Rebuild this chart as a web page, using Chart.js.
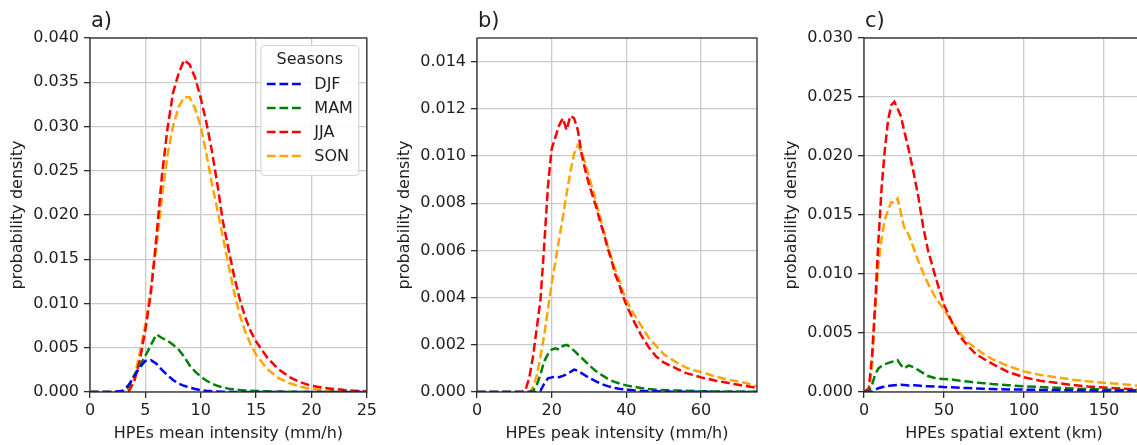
<!DOCTYPE html>
<html><head><meta charset="utf-8">
<script src="https://cdn.jsdelivr.net/npm/chart.js@4.4.1/dist/chart.umd.min.js"></script>
<style>
html,body{margin:0;padding:0;background:#fff;overflow:hidden;width:1137px;height:445px;position:relative;}
canvas.panel{position:absolute;top:0;}
</style></head><body>
<canvas id="ca" class="panel" width="380" height="445" style="left:0px;width:380px;height:445px"></canvas>
<canvas id="cb" class="panel" width="380" height="445" style="left:387px;width:380px;height:445px"></canvas>
<canvas id="cc" class="panel" width="380" height="445" style="left:774px;width:380px;height:445px"></canvas>
<script>
const seasons = ['DJF', 'MAM', 'JJA', 'SON'];
const seasonColors = ['#0000ff', '#008000', '#ff0000', '#ffa500'];
const panelLabels = ['a)', 'b)', 'c)'];
const xTitles = ['HPEs mean intensity (mm/h)', 'HPEs peak intensity (mm/h)', 'HPEs spatial extent (km)'];
const yTitle = 'probability density';
const legendTitle = 'Seasons';

// ---- panel a: mean intensity ----
const meanX = [0, 2, 3, 3.5, 4, 4.5, 5, 5.5, 6, 6.5, 7, 7.5, 8, 8.5, 9, 9.5, 10, 10.5, 11, 11.5, 12, 12.5, 13, 13.5, 14, 14.5, 15, 16, 17, 18, 19, 20, 21, 22, 23, 24, 25];
const meanDJF = [0, 0, 0.15e-3, 0.8e-3, 1.8e-3, 2.8e-3, 3.5e-3, 3.6e-3, 3.2e-3, 2.5e-3, 1.9e-3, 1.35e-3, 0.95e-3, 0.7e-3, 0.5e-3, 0.33e-3, 0.2e-3, 0.13e-3, 0.08e-3, 0.05e-3, 0.03e-3, 0.02e-3, 0.01e-3, 0, 0, 0, 0, 0, 0, 0, 0, 0, 0, 0, 0, 0, 0];
const meanMAM = [0, 0, 0.05e-3, 0.6e-3, 1.9e-3, 3.0e-3, 4.1e-3, 5.3e-3, 6.5e-3, 6.1e-3, 5.8e-3, 5.35e-3, 4.8e-3, 4.0e-3, 3.0e-3, 2.3e-3, 1.75e-3, 1.3e-3, 0.95e-3, 0.7e-3, 0.5e-3, 0.38e-3, 0.3e-3, 0.22e-3, 0.18e-3, 0.15e-3, 0.12e-3, 0.08e-3, 0.05e-3, 0.03e-3, 0.02e-3, 0.01e-3, 0, 0, 0, 0, 0];
const meanJJA = [0, 0, 0, 0.1e-3, 1.2e-3, 3.6e-3, 7.0e-3, 11.2e-3, 17.5e-3, 24.5e-3, 29.8e-3, 33.8e-3, 36.0e-3, 37.5e-3, 37.0e-3, 35.5e-3, 33.2e-3, 30.5e-3, 27.3e-3, 23.5e-3, 19.3e-3, 16.2e-3, 13.2e-3, 10.6e-3, 8.5e-3, 6.9e-3, 5.7e-3, 3.9e-3, 2.6e-3, 1.7e-3, 1.1e-3, 0.7e-3, 0.5e-3, 0.35e-3, 0.22e-3, 0.14e-3, 0.08e-3];
const meanSON = [0, 0, 0, 0.1e-3, 1.5e-3, 4.5e-3, 7.6e-3, 11.8e-3, 16.4e-3, 22.0e-3, 26.8e-3, 30.0e-3, 32.2e-3, 33.3e-3, 33.3e-3, 32.0e-3, 30.0e-3, 27.0e-3, 23.6e-3, 20.6e-3, 17.5e-3, 14.4e-3, 11.4e-3, 8.8e-3, 6.9e-3, 5.4e-3, 4.2e-3, 2.6e-3, 1.6e-3, 1.0e-3, 0.6e-3, 0.35e-3, 0.2e-3, 0.12e-3, 0.07e-3, 0.04e-3, 0.02e-3];

// ---- panel b: peak intensity ----
const peakX = [0, 10, 12, 13, 14, 15, 16, 17, 18, 19, 20, 21, 22, 23, 24, 25, 26, 27, 28, 29, 30, 31, 32, 33, 34, 35, 36, 37, 38, 39, 40, 42, 44, 46, 48, 50, 52, 54, 56, 58, 60, 62, 64, 66, 68, 70, 72, 74, 75];
const peakDJF = [0, 0, 0, 0, 0, 0, 0, 0.05e-3, 0.35e-3, 0.58e-3, 0.62e-3, 0.64e-3, 0.63e-3, 0.68e-3, 0.75e-3, 0.85e-3, 0.95e-3, 0.9e-3, 0.8e-3, 0.7e-3, 0.6e-3, 0.52e-3, 0.44e-3, 0.37e-3, 0.3e-3, 0.25e-3, 0.21e-3, 0.17e-3, 0.14e-3, 0.12e-3, 0.1e-3, 0.07e-3, 0.05e-3, 0.04e-3, 0.03e-3, 0.02e-3, 0.01e-3, 0.01e-3, 0.01e-3, 0.01e-3, 0.01e-3, 0.01e-3, 0, 0, 0, 0, 0, 0, 0];
const peakMAM = [0, 0, 0, 0, 0, 0.05e-3, 0.3e-3, 0.75e-3, 1.3e-3, 1.6e-3, 1.8e-3, 1.85e-3, 1.8e-3, 1.95e-3, 2.0e-3, 1.9e-3, 1.75e-3, 1.6e-3, 1.45e-3, 1.3e-3, 1.15e-3, 1.0e-3, 0.87e-3, 0.76e-3, 0.66e-3, 0.56e-3, 0.48e-3, 0.42e-3, 0.37e-3, 0.32e-3, 0.28e-3, 0.22e-3, 0.17e-3, 0.13e-3, 0.1e-3, 0.08e-3, 0.07e-3, 0.06e-3, 0.05e-3, 0.04e-3, 0.03e-3, 0.03e-3, 0.02e-3, 0.02e-3, 0.02e-3, 0.02e-3, 0.01e-3, 0.01e-3, 0.01e-3];
const peakJJA = [0, 0, 0, 0.1e-3, 0.6e-3, 1.5e-3, 2.7e-3, 3.9e-3, 6.2e-3, 8.7e-3, 10.3e-3, 10.8e-3, 11.3e-3, 11.6e-3, 11.1e-3, 11.7e-3, 11.6e-3, 11.1e-3, 10.1e-3, 9.4e-3, 8.8e-3, 8.3e-3, 7.8e-3, 7.2e-3, 6.7e-3, 6.1e-3, 5.6e-3, 5.0e-3, 4.6e-3, 4.1e-3, 3.7e-3, 3.0e-3, 2.4e-3, 1.9e-3, 1.5e-3, 1.25e-3, 1.1e-3, 0.95e-3, 0.8e-3, 0.72e-3, 0.62e-3, 0.55e-3, 0.48e-3, 0.42e-3, 0.36e-3, 0.31e-3, 0.25e-3, 0.2e-3, 0.17e-3];
const peakSON = [0, 0, 0, 0, 0, 0.2e-3, 0.7e-3, 1.5e-3, 2.4e-3, 3.5e-3, 4.6e-3, 5.5e-3, 6.5e-3, 7.4e-3, 8.4e-3, 9.3e-3, 10.1e-3, 10.45e-3, 10.2e-3, 9.7e-3, 9.1e-3, 8.6e-3, 8.0e-3, 7.4e-3, 6.8e-3, 6.2e-3, 5.7e-3, 5.2e-3, 4.8e-3, 4.3e-3, 3.9e-3, 3.3e-3, 2.8e-3, 2.3e-3, 1.95e-3, 1.6e-3, 1.4e-3, 1.2e-3, 1.03e-3, 0.92e-3, 0.85e-3, 0.75e-3, 0.65e-3, 0.57e-3, 0.5e-3, 0.45e-3, 0.38e-3, 0.28e-3, 0.24e-3];

// ---- panel c: spatial extent ----
const extentX = [0, 3, 5, 7, 9, 11, 13, 15, 17, 19, 21, 23, 25, 28, 31, 34, 37, 40, 45, 50, 55, 60, 65, 70, 75, 80, 90, 100, 110, 120, 130, 140, 150, 160, 170, 175];
const extentDJF = [0, 0, 0.05e-3, 0.2e-3, 0.32e-3, 0.4e-3, 0.45e-3, 0.5e-3, 0.55e-3, 0.58e-3, 0.6e-3, 0.62e-3, 0.6e-3, 0.55e-3, 0.58e-3, 0.55e-3, 0.5e-3, 0.48e-3, 0.46e-3, 0.42e-3, 0.4e-3, 0.36e-3, 0.33e-3, 0.3e-3, 0.28e-3, 0.25e-3, 0.22e-3, 0.2e-3, 0.18e-3, 0.16e-3, 0.14e-3, 0.12e-3, 0.11e-3, 0.1e-3, 0.09e-3, 0.09e-3];
const extentMAM = [0, 0.05e-3, 0.6e-3, 1.5e-3, 2.0e-3, 2.2e-3, 2.35e-3, 2.45e-3, 2.55e-3, 2.6e-3, 2.7e-3, 2.3e-3, 2.0e-3, 2.25e-3, 2.1e-3, 1.85e-3, 1.6e-3, 1.35e-3, 1.15e-3, 1.1e-3, 1.05e-3, 0.95e-3, 0.88e-3, 0.8e-3, 0.75e-3, 0.68e-3, 0.58e-3, 0.48e-3, 0.42e-3, 0.36e-3, 0.3e-3, 0.25e-3, 0.21e-3, 0.18e-3, 0.15e-3, 0.14e-3];
const extentJJA = [0, 0.3e-3, 3.0e-3, 7.5e-3, 12.8e-3, 17.3e-3, 20.5e-3, 23.0e-3, 24.3e-3, 24.6e-3, 24.0e-3, 23.4e-3, 22.2e-3, 20.5e-3, 18.6e-3, 16.5e-3, 14.0e-3, 12.0e-3, 9.6e-3, 7.4e-3, 5.9e-3, 4.7e-3, 3.9e-3, 3.2e-3, 2.8e-3, 2.4e-3, 1.7e-3, 1.25e-3, 0.95e-3, 0.78e-3, 0.6e-3, 0.47e-3, 0.38e-3, 0.3e-3, 0.24e-3, 0.22e-3];
const extentSON = [0, 0.2e-3, 2.0e-3, 7.0e-3, 10.8e-3, 13.0e-3, 14.6e-3, 15.4e-3, 16.1e-3, 16.0e-3, 16.4e-3, 15.2e-3, 14.0e-3, 13.3e-3, 12.2e-3, 11.1e-3, 10.1e-3, 9.2e-3, 7.9e-3, 7.0e-3, 5.9e-3, 5.0e-3, 4.2e-3, 3.7e-3, 3.2e-3, 2.8e-3, 2.2e-3, 1.75e-3, 1.45e-3, 1.25e-3, 1.05e-3, 0.9e-3, 0.78e-3, 0.68e-3, 0.55e-3, 0.5e-3];

// axis ranges / tick steps
const xMax = [25, 75, 175];
const xStep = [5, 20, 50];
const yMax = [0.040, 0.015, 0.030];
const yStep = [0.005, 0.002, 0.005];

const FONT = '"DejaVu Sans", "Liberation Sans", sans-serif';
const TEXT = '#1e1e1e';
const SPINE = '#2b2b2b';
const GRID = '#cacaca';

const framePlugin = {
  id: 'frame',
  afterDatasetsDraw(chart) {
    const {ctx, chartArea: a} = chart;
    ctx.save();
    ctx.strokeStyle = SPINE;
    ctx.lineWidth = 1.3;
    ctx.strokeRect(a.left, a.top, a.right - a.left, a.bottom - a.top);
    ctx.restore();
  }
};

const panelLabelPlugin = {
  id: 'panelLabel',
  afterDraw(chart, args, opts) {
    if (!opts || !opts.text) return;
    const ctx = chart.ctx;
    ctx.save();
    ctx.font = '21px ' + FONT;
    ctx.fillStyle = TEXT;
    ctx.textAlign = 'left';
    ctx.textBaseline = 'alphabetic';
    ctx.fillText(opts.text, chart.chartArea.left + 1, 26.5);
    ctx.restore();
  }
};

const boxLegendPlugin = {
  id: 'boxLegend',
  afterDatasetsDraw(chart, args, opts) {
    if (!opts || !opts.display) return;
    const ctx = chart.ctx, a = chart.chartArea;
    const w = opts.width, h = opts.height;
    const x0 = a.right - opts.right - w, y0 = a.top + opts.top;
    const r = 4;
    ctx.save();
    ctx.beginPath();
    ctx.moveTo(x0 + r, y0);
    ctx.lineTo(x0 + w - r, y0);
    ctx.arcTo(x0 + w, y0, x0 + w, y0 + r, r);
    ctx.lineTo(x0 + w, y0 + h - r);
    ctx.arcTo(x0 + w, y0 + h, x0 + w - r, y0 + h, r);
    ctx.lineTo(x0 + r, y0 + h);
    ctx.arcTo(x0, y0 + h, x0, y0 + h - r, r);
    ctx.lineTo(x0, y0 + r);
    ctx.arcTo(x0, y0, x0 + r, y0, r);
    ctx.closePath();
    ctx.fillStyle = 'rgba(255,255,255,0.85)';
    ctx.fill();
    ctx.strokeStyle = '#d6d6d6';
    ctx.lineWidth = 1.2;
    ctx.stroke();
    ctx.font = '16px ' + FONT;
    ctx.fillStyle = TEXT;
    ctx.textBaseline = 'middle';
    ctx.textAlign = 'center';
    ctx.fillText(opts.title, x0 + w / 2, y0 + opts.titleDy);
    ctx.textAlign = 'left';
    chart.data.datasets.forEach((ds, i) => {
      const yy = y0 + opts.firstDy + i * opts.rowH;
      ctx.beginPath();
      ctx.setLineDash(ds.borderDash);
      ctx.strokeStyle = ds.borderColor;
      ctx.lineWidth = ds.borderWidth;
      ctx.moveTo(x0 + opts.handleX0, yy);
      ctx.lineTo(x0 + opts.handleX0 + opts.handleLen, yy);
      ctx.stroke();
      ctx.setLineDash([]);
      ctx.fillText(ds.label, x0 + opts.textX, yy + 1);
    });
    ctx.restore();
  }
};

function makePanel(canvasId, idx, xs, seriesList, padRight, withLegend) {
  const datasets = seasons.map((s, i) => ({
    label: s,
    data: xs.map((x, j) => ({x: x, y: seriesList[i][j]})),
    borderColor: seasonColors[i],
    backgroundColor: seasonColors[i],
    borderWidth: 2.5,
    borderDash: [8.8, 3.8],
    pointRadius: 0,
    tension: 0,
    fill: false
  }));
  return new Chart(document.getElementById(canvasId), {
    type: 'line',
    data: {datasets},
    options: {
      responsive: false,
      animation: false,
      devicePixelRatio: 1,
      events: [],
      layout: {padding: {left: 0, top: 38, right: padRight, bottom: 0}},
      plugins: {
        legend: {display: false},
        tooltip: {enabled: false},
        panelLabel: {text: panelLabels[idx]},
        boxLegend: {display: withLegend, title: legendTitle, right: 8, top: 7.5, width: 98, height: 130,
                    titleDy: 14.5, firstDy: 38.5, rowH: 24, handleX0: 6, handleLen: 34, textX: 53.5}
      },
      scales: {
        x: {
          type: 'linear', min: 0, max: xMax[idx],
          afterFit: s => { s.height = 53; },
          border: {display: false},
          grid: {color: GRID, lineWidth: 1.3, tickColor: SPINE, tickLength: 6, tickWidth: 1.3},
          ticks: {stepSize: xStep[idx], includeBounds: false, padding: 3, color: TEXT, maxRotation: 0, autoSkip: false,
                  font: {family: FONT, size: 16}},
          title: {display: true, text: xTitles[idx], color: TEXT, font: {family: FONT, size: 16}, padding: {top: 0, bottom: 2}}
        },
        y: {
          type: 'linear', min: 0, max: yMax[idx],
          afterFit: s => { s.width = 90; },
          border: {display: false},
          grid: {color: GRID, lineWidth: 1.3, tickColor: SPINE, tickLength: 6, tickWidth: 1.3},
          ticks: {stepSize: yStep[idx], includeBounds: false, padding: 5, color: TEXT, autoSkip: false,
                  font: {family: FONT, size: 16}, callback: v => Number(v).toFixed(3)},
          title: {display: true, text: yTitle, color: TEXT, font: {family: FONT, size: 16}, padding: {top: 8, bottom: 0}}
        }
      }
    },
    plugins: [framePlugin, panelLabelPlugin, boxLegendPlugin]
  });
}

makePanel('ca', 0, meanX, [meanDJF, meanMAM, meanJJA, meanSON], 11, true);
makePanel('cb', 1, peakX, [peakDJF, peakMAM, peakJJA, peakSON], 10, false);
makePanel('cc', 2, extentX, [extentDJF, extentMAM, extentJJA, extentSON], 10, false);
</script>
</body></html>
